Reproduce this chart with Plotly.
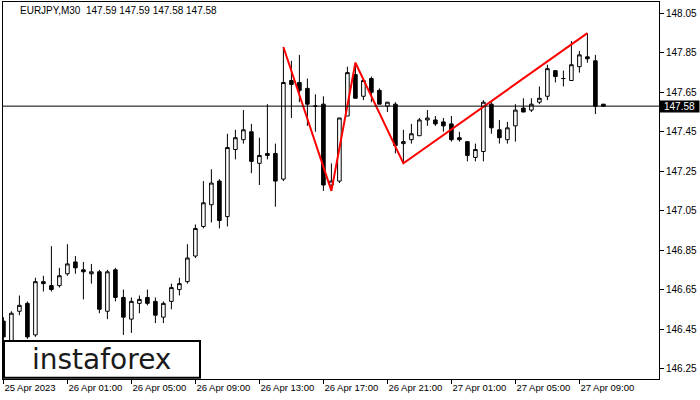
import plotly.graph_objects as go

# ---- data (EURJPY M30, bars indexed from 25 Apr 21:00) ----
opens = [146.49, 146.39, 146.54, 146.58, 146.42, 146.69, 146.67, 146.67, 146.73, 146.79,
         146.75, 146.73, 146.74, 146.54, 146.75, 146.61, 146.50, 146.58, 146.61, 146.59,
         146.51, 146.59, 146.65, 146.69, 146.82, 146.97, 147.08, 147.20, 147.02, 147.36,
         147.41, 147.45, 147.29, 147.34, 147.34, 147.21, 147.71, 147.70, 147.67, 147.58,
         147.59, 147.18, 147.20, 147.53, 147.74, 147.63, 147.72, 147.66, 147.58, 147.59,
         147.39, 147.41, 147.43, 147.51, 147.51, 147.50, 147.49, 147.42, 147.40, 147.32,
         147.35, 147.59, 147.46, 147.41, 147.48, 147.57, 147.56, 147.60, 147.63, 147.76,
         147.72, 147.71, 147.78, 147.83, 147.81, 147.59]
highs = [146.51, 146.54, 146.62, 146.59, 146.71, 146.72, 146.87, 146.76, 146.88, 146.82,
         146.79, 146.78, 146.75, 146.75, 146.76, 146.65, 146.61, 146.62, 146.65, 146.61,
         146.59, 146.68, 146.71, 146.88, 146.98, 147.20, 147.26, 147.21, 147.44, 147.46,
         147.56, 147.49, 147.42, 147.59, 147.39, 147.88, 147.81, 147.84, 147.72, 147.64,
         147.63, 147.29, 147.52, 147.78, 147.80, 147.72, 147.73, 147.67, 147.60, 147.60,
         147.46, 147.49, 147.52, 147.56, 147.53, 147.52, 147.53, 147.45, 147.40, 147.39,
         147.61, 147.60, 147.51, 147.50, 147.59, 147.62, 147.62, 147.68, 147.79, 147.76,
         147.76, 147.91, 147.86, 147.95, 147.84, 147.59]
lows = [146.37, 146.37, 146.52, 146.40, 146.41, 146.64, 146.64, 146.66, 146.72, 146.73,
        146.60, 146.68, 146.53, 146.50, 146.59, 146.42, 146.43, 146.53, 146.57, 146.48,
        146.48, 146.55, 146.62, 146.68, 146.81, 146.96, 146.99, 146.96, 146.97, 147.31,
        147.39, 147.24, 147.18, 147.31, 147.07, 147.20, 147.52, 147.60, 147.48, 147.45,
        147.15, 147.15, 147.19, 147.53, 147.62, 147.61, 147.60, 147.59, 147.55, 147.34,
        147.29, 147.39, 147.43, 147.48, 147.48, 147.45, 147.40, 147.40, 147.30, 147.30,
        147.30, 147.44, 147.39, 147.39, 147.40, 147.55, 147.55, 147.59, 147.61, 147.70,
        147.68, 147.71, 147.75, 147.80, 147.54, 147.58]
closes = [146.41, 146.53, 146.57, 146.41, 146.69, 146.68, 146.65, 146.72, 146.78, 146.76,
          146.74, 146.74, 146.55, 146.74, 146.61, 146.51, 146.59, 146.60, 146.58, 146.52,
          146.58, 146.66, 146.68, 146.81, 146.96, 147.09, 147.19, 147.00, 147.37, 147.42,
          147.46, 147.30, 147.33, 147.33, 147.20, 147.70, 147.69, 147.66, 147.59, 147.58,
          147.18, 147.20, 147.52, 147.75, 147.62, 147.71, 147.65, 147.59, 147.60, 147.38,
          147.40, 147.44, 147.51, 147.52, 147.49, 147.48, 147.41, 147.41, 147.33, 147.36,
          147.60, 147.47, 147.42, 147.47, 147.56, 147.55, 147.59, 147.62, 147.77, 147.73,
          147.72, 147.79, 147.84, 147.82, 147.58, 147.58]

tick_bars = [0, 8, 16, 24, 32, 40, 48, 56, 64, 72]
tick_labels = ["25 Apr 2023", "26 Apr 01:00", "26 Apr 05:00", "26 Apr 09:00",
               "26 Apr 13:00", "26 Apr 17:00", "26 Apr 21:00", "27 Apr 01:00",
               "27 Apr 05:00", "27 Apr 09:00"]
price_ticks = [146.25, 146.45, 146.65, 146.85, 147.05, 147.25, 147.45, 147.65, 147.85, 148.05]

pattern_bars = [35, 41, 44, 50, 73]
pattern_prices = [147.88, 147.15, 147.80, 147.29, 147.95]

current_price = 147.58
title_text = "EURJPY,M30  147.59 147.59 147.58 147.58"

bars = list(range(len(opens)))
FONT = "Liberation Sans"

fig = go.Figure()
fig.add_trace(go.Candlestick(
    x=bars, open=opens, high=highs, low=lows, close=closes,
    increasing=dict(line=dict(color="black", width=1), fillcolor="white"),
    decreasing=dict(line=dict(color="black", width=1), fillcolor="black"),
    whiskerwidth=0, showlegend=False, hoverinfo="skip",
))
fig.add_trace(go.Scatter(
    x=pattern_bars, y=pattern_prices, mode="lines",
    line=dict(color="#ff0000", width=2), showlegend=False, hoverinfo="skip",
))

fig.update_layout(
    width=700, height=400,
    margin=dict(l=3, r=41, t=2, b=21, autoexpand=False),
    paper_bgcolor="white", plot_bgcolor="white",
    boxgap=0.36,
    shapes=[
        dict(type="line", xref="paper", yref="y", x0=0, x1=1,
             y0=current_price, y1=current_price, line=dict(color="black", width=1)),
        dict(type="rect", xref="paper", yref="paper", x0=0.0015, x1=0.3003,
             y0=0.003, y1=0.1008, fillcolor="white", line=dict(color="black", width=2),
             layer="above"),
    ],
    annotations=[
        dict(text=title_text, xref="paper", yref="paper", x=0.0229, y=0.977,
             xanchor="left", yanchor="middle", showarrow=False,
             font=dict(family=FONT, size=10, color="black")),
        dict(text="instaforex", xref="paper", yref="paper", x=0.1494, y=0.053,
             xanchor="center", yanchor="middle", showarrow=False,
             font=dict(family="DejaVu Sans", size=28, color="#1a1a1a")),
        dict(text="147.58", xref="paper", yref="y", x=1.0, y=current_price,
             xanchor="left", yanchor="middle", showarrow=False,
             width=39, height=11, borderpad=0, bgcolor="black", align="center",
             font=dict(family=FONT, size=10, color="white")),
    ],
    xaxis=dict(
        range=[-0.05, 81.95], rangeslider=dict(visible=False), automargin=False,
        showgrid=False, zeroline=False, showline=True, mirror=True,
        linecolor="black", linewidth=1,
        tickmode="array", tickvals=tick_bars, ticktext=tick_labels,
        ticks="outside", ticklen=4, tickcolor="black",
        ticklabelposition="outside right",
        tickfont=dict(family=FONT, size=9.5, color="black"),
    ),
    yaxis=dict(
        side="right", range=[146.1965, 148.108], automargin=False,
        showgrid=False, zeroline=False, showline=True, mirror=True,
        linecolor="black", linewidth=1,
        tickmode="array", tickvals=price_ticks,
        ticktext=[f"{p:.2f}" for p in price_ticks],
        ticks="outside", ticklen=4, tickcolor="black",
        tickfont=dict(family=FONT, size=10, color="black"),
    ),
)

fig.write_html(
    "out.html",
    config={"displayModeBar": False},
    post_script="document.body.style.margin='0';document.body.style.overflow='hidden';",
)
